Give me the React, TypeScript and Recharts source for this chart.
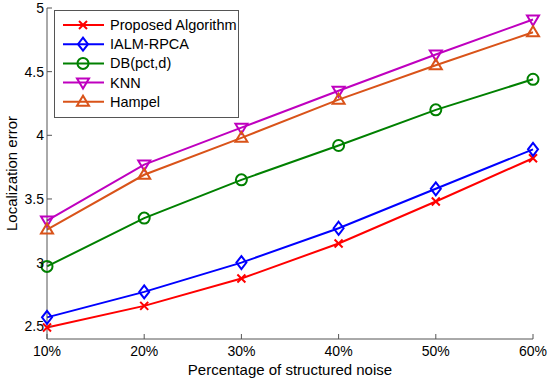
import React from 'react';
import {
	LineChart,
	Line,
	XAxis,
	YAxis,
	Legend,
} from 'recharts';

const categories = ['10%', '20%', '30%', '40%', '50%', '60%'];
const proposed = [2.49, 2.66, 2.875, 3.15, 3.48, 3.82];
const ialm = [2.57, 2.77, 3.0, 3.27, 3.58, 3.89];
const dbPct = [2.97, 3.35, 3.65, 3.92, 4.2, 4.44];
const knn = [3.33, 3.77, 4.06, 4.35, 4.635, 4.91];
const hampel = [3.26, 3.69, 3.98, 4.28, 4.55, 4.81];
const yTicks = [2.5, 3, 3.5, 4, 4.5, 5];

const FONT = '"Liberation Sans", Arial, Helvetica, sans-serif';
const AXIS = '#555';

type Shape = 'x' | 'diamond' | 'circle' | 'down' | 'up';

const series: { key: string; name: string; color: string; shape: Shape }[] = [
	{ key: 'proposed', name: 'Proposed Algorithm', color: '#ff0000', shape: 'x' },
	{ key: 'ialm', name: 'IALM-RPCA', color: '#0000ff', shape: 'diamond' },
	{ key: 'db', name: 'DB(pct,d)', color: '#008000', shape: 'circle' },
	{ key: 'knn', name: 'KNN', color: '#bf00bf', shape: 'down' },
	{ key: 'hampel', name: 'Hampel', color: '#d95319', shape: 'up' },
];

const data = categories.map((c, i) => ({
	x: c,
	proposed: proposed[i],
	ialm: ialm[i],
	db: dbPct[i],
	knn: knn[i],
	hampel: hampel[i],
}));

function Marker({ cx, cy, shape, color }: { cx: number; cy: number; shape: Shape; color: string }) {
	const p = { fill: 'none', stroke: color, strokeWidth: 2 };
	if (shape === 'x')
		return (
			<path d={`M${cx - 4},${cy - 4}L${cx + 4},${cy + 4}M${cx - 4},${cy + 4}L${cx + 4},${cy - 4}`} {...p} />
		);
	if (shape === 'diamond')
		return <path d={`M${cx},${cy - 6.5}L${cx + 5},${cy}L${cx},${cy + 6.5}L${cx - 5},${cy}Z`} {...p} />;
	if (shape === 'circle') return <circle cx={cx} cy={cy} r={5.5} {...p} />;
	if (shape === 'down')
		return <path d={`M${cx - 6},${cy - 4}L${cx + 6},${cy - 4}L${cx},${cy + 6}Z`} {...p} />;
	return <path d={`M${cx - 6},${cy + 4}L${cx + 6},${cy + 4}L${cx},${cy - 6}Z`} {...p} />;
}

function makeDot(shape: Shape, color: string) {
	return (props: any) => {
		const { cx, cy, index } = props;
		if (cx == null || cy == null) return <g key={index} />;
		return (
			<g key={index}>
				<Marker cx={cx} cy={cy} shape={shape} color={color} />
			</g>
		);
	};
}

function LegendBox() {
	return (
		<svg width={185} height={108} style={{ display: 'block', background: 'white', overflow: 'visible' }}>
			<rect x={0.5} y={0.5} width={184} height={107} fill="white" stroke={AXIS} strokeWidth={1} />
			{series.map((s, i) => {
				const y = 15 + i * 19.2;
				return (
					<g key={s.key}>
						<line x1={9} x2={50} y1={y} y2={y} stroke={s.color} strokeWidth={2} />
						<Marker cx={29} cy={y} shape={s.shape} color={s.color} />
						<text x={56} y={y + 5} fontSize={14.5} fontFamily={FONT} fill="#000">
							{s.name}
						</text>
					</g>
				);
			})}
		</svg>
	);
}

const tickStyle = { fontSize: 14, fill: '#000', fontFamily: FONT };

export default function App() {
	return (
		<div style={{ position: 'absolute', left: 0, top: 0, width: 550, height: 381, background: 'white' }}>
			<LineChart
				width={550}
				height={381}
				data={data}
				margin={{ top: 8, right: 17, bottom: 0, left: 0 }}
			>
				<XAxis
					dataKey="x"
					xAxisId="bottom"
					height={42}
					stroke={AXIS}
					tickSize={-5}
					tickMargin={12}
					tick={tickStyle}
					interval={0}
					label={{
						value: 'Percentage of structured noise',
						position: 'insideBottom',
						offset: 6,
						style: { fontSize: 15, fill: '#000', fontFamily: FONT },
					}}
				/>
				<XAxis
					dataKey="x"
					xAxisId="top"
					orientation="top"
					height={0}
					stroke={AXIS}
					tickSize={-5}
					tickFormatter={() => ''}
					interval={0}
				/>
				<YAxis
					yAxisId="left"
					width={47}
					domain={[2.4, 5]}
					ticks={yTicks}
					type="number"
					allowDataOverflow
					stroke={AXIS}
					tickSize={-5}
					tickMargin={8}
					tick={tickStyle}
					label={{
						value: 'Localization error',
						angle: -90,
						position: 'insideLeft',
						offset: 12,
						style: { fontSize: 15, fill: '#000', fontFamily: FONT, textAnchor: 'middle' },
					}}
				/>
				<YAxis
					yAxisId="right"
					orientation="right"
					width={0}
					domain={[2.4, 5]}
					ticks={yTicks}
					type="number"
					stroke={AXIS}
					tickSize={-5}
					tickFormatter={() => ''}
				/>
				<Legend
					layout="vertical"
					align="center"
					verticalAlign="middle"
					wrapperStyle={{ left: 54, top: 10, width: 185, height: 108 }}
					content={() => <LegendBox />}
				/>
				{series.map((s) => (
					<Line
						key={s.key}
						xAxisId="bottom"
						yAxisId="left"
						type="linear"
						dataKey={s.key}
						name={s.name}
						stroke={s.color}
						strokeWidth={2}
						dot={makeDot(s.shape, s.color)}
						activeDot={false}
						isAnimationActive={false}
					/>
				))}
			</LineChart>
		</div>
	);
}
